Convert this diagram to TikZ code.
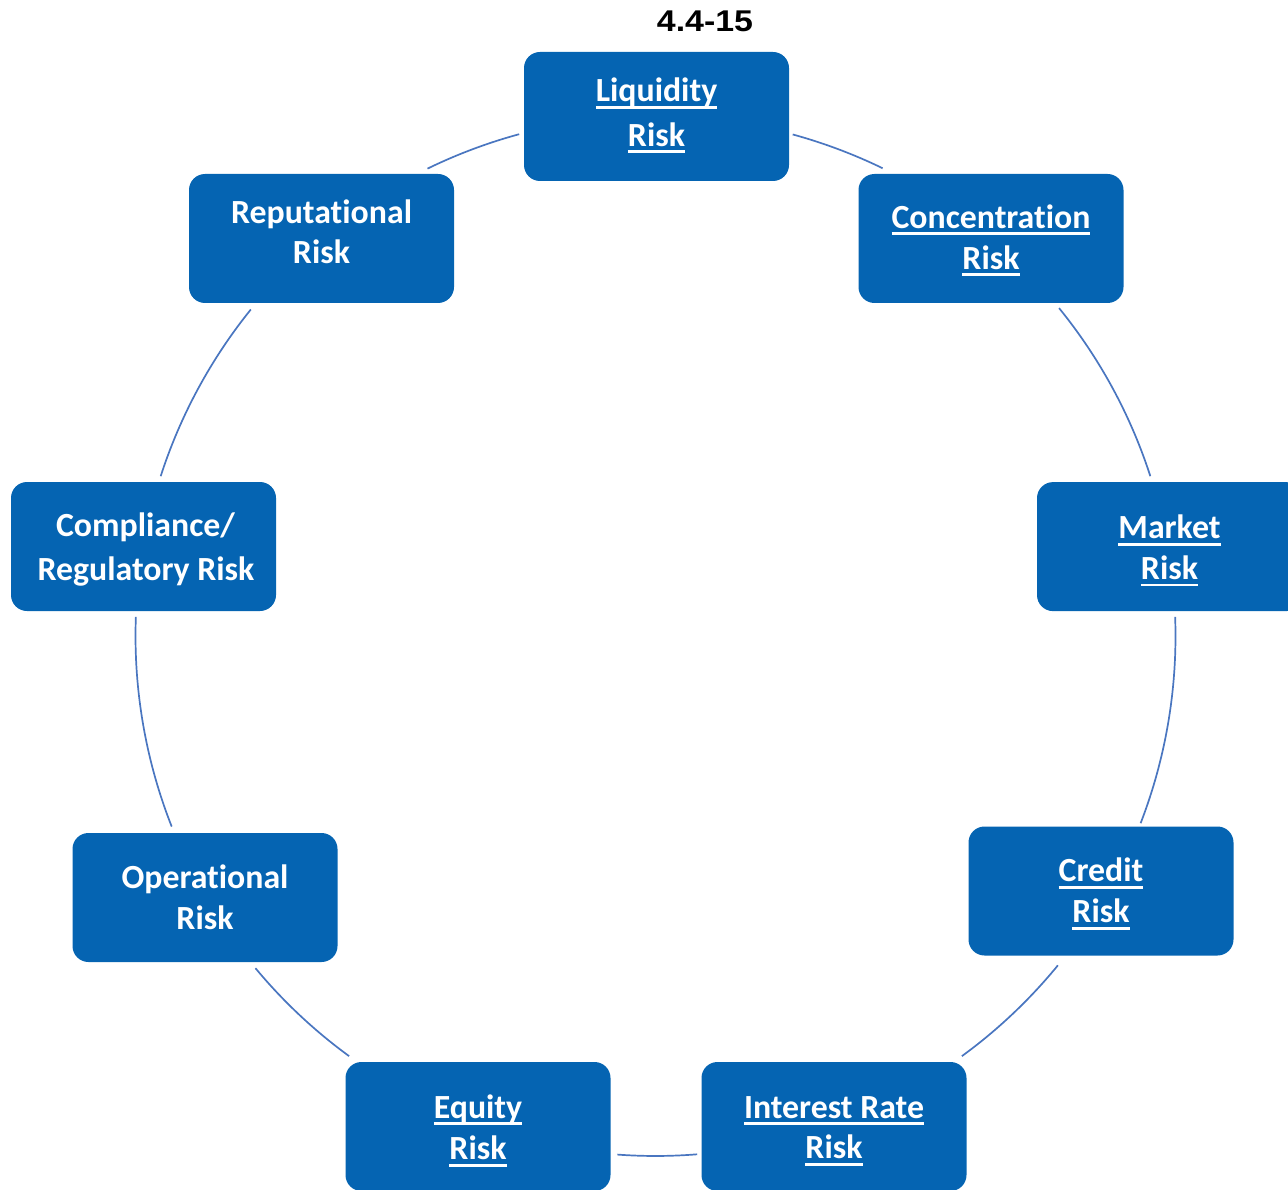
\documentclass[tikz,border=0pt]{standalone}
\usepackage{graphicx}
\usepackage{fontspec}
\setmainfont{Carlito}[Ligatures=NoCommon]
\newfontfamily\titlefont{Liberation Sans}
\definecolor{boxblue}{HTML}{0564B2}
\definecolor{ringblue}{HTML}{4A76C0}
\newcommand\myul[1]{\setbox0\hbox{#1}\rlap{\rule[-7pt]{\wd0}{2.8pt}}\box0}
% two lines, raised by #1 and #2 relative to the node centre
\newcommand\twoln[4]{\makebox[0pt]{\raisebox{#1}[0pt][0pt]{#3}}\makebox[0pt]{\raisebox{#2}[0pt][0pt]{#4}}}
\begin{document}
\begin{tikzpicture}[x=1pt,y=-1pt,
  riskbox/.style={draw=none,fill=boxblue,rounded corners=16pt,minimum width=265pt,minimum height=129pt,
    text=white,inner sep=0pt,font=\fontsize{33.8}{41}\selectfont\bfseries},
  ring/.style={draw=ringblue,line width=1.7pt}]
\useasboundingbox (0,0) rectangle (1288,1190);
\clip (0,0) rectangle (1288,1190);
\coordinate (ctr) at (655.5,636);
\node[font=\titlefont\fontsize{30}{36}\selectfont\bfseries,inner sep=0pt] (title) at (705,21.7) {\scalebox{1.13}[1]{4.4-15}};
\node[riskbox] (liq) at (656.5,116.5) {\twoln{14.5pt}{-29.8pt}{\myul{Liquidity}}{\myul{Risk}}};
\node[riskbox] (conc) at (991,238.5) {\twoln{10.3pt}{-30.7pt}{\myul{Concentration}}{\myul{Risk}}};
\node[riskbox] (mkt) at (1169.5,546.6) {\twoln{7.8pt}{-32.8pt}{\myul{Market}}{\myul{Risk}}};
\node[riskbox] (cred) at (1101,891) {\twoln{9.2pt}{-31.5pt}{\myul{Credit}}{\myul{Risk}}};
\node[riskbox] (ir) at (834,1126.5) {\twoln{8.3pt}{-32.3pt}{\myul{Interest Rate}}{\myul{Risk}}};
\node[riskbox] (eq) at (478,1126.5) {\twoln{8.3pt}{-33pt}{\myul{Equity}}{\myul{Risk}}};
\node[riskbox] (op) at (205,897.5) {\twoln{9pt}{-32pt}{Operational}{Risk}};
\node[riskbox] (comp) at (143.5,546.5) {\twoln{10pt}{-33.5pt}{\hspace*{4pt}Compliance/}{\hspace*{5pt}Regulatory Risk}};
\node[riskbox] (rep) at (321.5,238.5) {\twoln{15pt}{-25.5pt}{Reputational}{Risk}};
% arcs of the cycle, between the boxes
\draw[ring] (ctr) ++(-74.7:520) arc[start angle=-74.7,end angle=-64.1,radius=520];
\draw[ring] (ctr) ++(-39.1:520) arc[start angle=-39.1,end angle=-17.9,radius=520];
\draw[ring] (ctr) ++(-2.1:520) arc[start angle=-2.1,end angle=21.1,radius=520];
\draw[ring] (ctr) ++(39.3:520) arc[start angle=39.3,end angle=53.9,radius=520];
\draw[ring] (ctr) ++(85.4:520) arc[start angle=85.4,end angle=94.2,radius=520];
\draw[ring] (ctr) ++(126.1:520) arc[start angle=126.1,end angle=140.3,radius=520];
\draw[ring] (ctr) ++(158.5:520) arc[start angle=158.5,end angle=182.1,radius=520];
\draw[ring] (ctr) ++(-162.1:520) arc[start angle=-162.1,end angle=-141.1,radius=520];
\draw[ring] (ctr) ++(-116:520) arc[start angle=-116,end angle=-105.2,radius=520];
\end{tikzpicture}
\end{document}
